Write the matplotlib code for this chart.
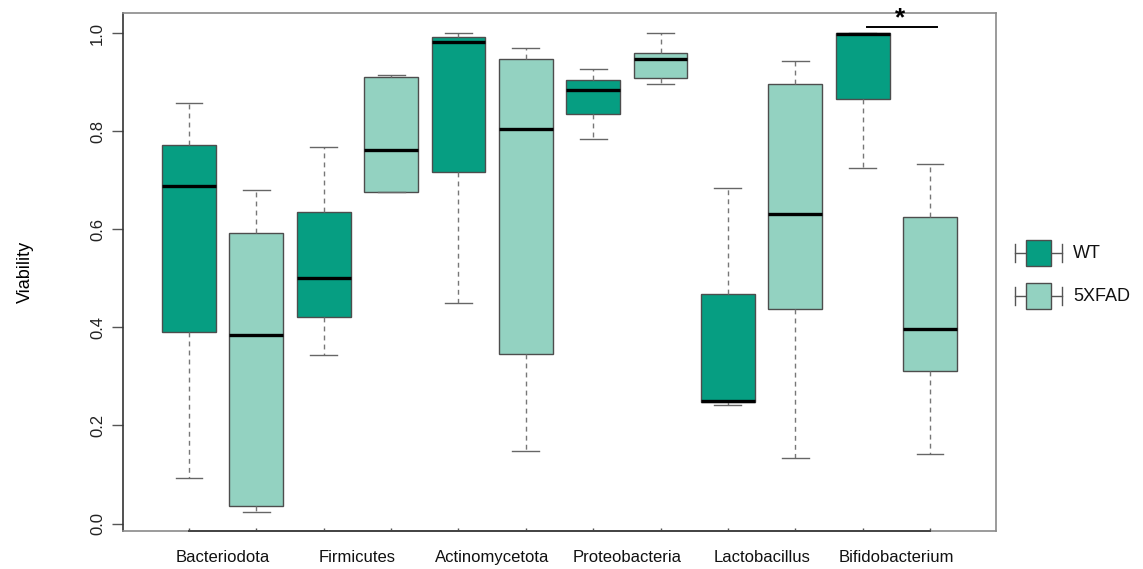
import matplotlib.pyplot as plt
from matplotlib.patches import Rectangle
from matplotlib.transforms import blended_transform_factory, offset_copy

plt.rcParams["font.family"] = ["Liberation Sans", "DejaVu Sans"]

# phylum / genus groups, two genotypes each
groups = ["Bacteriodota", "Firmicutes", "Actinomycetota",
          "Proteobacteria", "Lactobacillus", "Bifidobacterium"]
genotypes = ["WT", "5XFAD"]

# five-number summaries per group (whisker low, Q1, median, Q3, whisker high)
wt_lo = [0.093, 0.344, 0.449, 0.784, 0.242, 0.726]
wt_q1 = [0.391, 0.422, 0.717, 0.835, 0.248, 0.866]
wt_med = [0.689, 0.500, 0.983, 0.885, 0.250, 0.998]
wt_q3 = [0.772, 0.635, 0.992, 0.906, 0.468, 1.000]
wt_hi = [0.859, 0.769, 1.000, 0.928, 0.684, 1.000]

ad_lo = [0.023, 0.676, 0.148, 0.896, 0.134, 0.142]
ad_q1 = [0.036, 0.676, 0.345, 0.909, 0.438, 0.311]
ad_med = [0.385, 0.763, 0.806, 0.947, 0.632, 0.397]
ad_q3 = [0.592, 0.912, 0.947, 0.961, 0.896, 0.626]
ad_hi = [0.681, 0.915, 0.971, 1.000, 0.943, 0.734]

colors = {"WT": "#069e82", "5XFAD": "#93d2c1"}
edge = "#4d4d4d"


def make_stats(lo, q1, med, q3, hi):
    return [dict(whislo=a, q1=b, med=c, q3=d, whishi=e, fliers=[])
            for a, b, c, d, e in zip(lo, q1, med, q3, hi)]


wt_stats = make_stats(wt_lo, wt_q1, wt_med, wt_q3, wt_hi)
ad_stats = make_stats(ad_lo, ad_q1, ad_med, ad_q3, ad_hi)

stats, fills, positions = [], [], []
for i in range(len(groups)):
    stats += [wt_stats[i], ad_stats[i]]
    fills += [colors["WT"], colors["5XFAD"]]
    positions += [2 * i + 1, 2 * i + 2]

fig = plt.figure(figsize=(11.43, 5.69), dpi=100)
ax = fig.add_axes([123 / 1143, 38 / 569, 873 / 1143, 518 / 569])

bp = ax.bxp(stats, positions=positions, widths=0.8, patch_artist=True,
            showfliers=False,
            boxprops=dict(edgecolor=edge, linewidth=1.0),
            medianprops=dict(color="black", linewidth=2.4),
            whiskerprops=dict(color="#777777", linewidth=1.0,
                              linestyle=(0, (3.5, 3))),
            capprops=dict(color="#666666", linewidth=1.0),
            capwidths=0.4)
for patch, c in zip(bp["boxes"], fills):
    patch.set_facecolor(c)

ax.set_xlim(0.02, 12.98)
ax.set_ylim(-0.0153, 1.0418)

for s in ax.spines.values():
    s.set_color("#8a8a8a")
    s.set_linewidth(1.2)
ax.spines["left"].set_color("#333333")

ax.set_yticks([0.0, 0.2, 0.4, 0.6, 0.8, 1.0])
ax.set_yticklabels(["0.0", "0.2", "0.4", "0.6", "0.8", "1.0"],
                   rotation=90, va="center", fontsize=12, color="#222222")
ax.tick_params(axis="y", length=8, width=1, color="#555555", pad=5)
ax.set_ylabel("Viability", fontsize=13, labelpad=40)

# bottom axis: ticks at every box, line spanning first to last box
ax.set_xticks(positions)
ax.set_xticklabels([])
ax.tick_params(axis="x", length=2, width=1, color="#555555", direction="in")
ax.plot([1, 12], [-0.0153, -0.0153], color="#444444", lw=1.4,
        clip_on=False, zorder=5)

trans = offset_copy(blended_transform_factory(ax.transData, ax.transAxes),
                    fig=fig, y=-19, units="points")
for i, name in enumerate(groups):
    ax.text(2 * i + 1.5, 0, name, transform=trans, ha="center", va="center",
            fontsize=12, color="#111111")

# significance mark for Bifidobacterium
ax.plot([11.07, 12.1], [1.014, 1.014], color="black", lw=1.4, clip_on=False)
ax.text(11.55, 1.006, "*", ha="center", va="bottom", fontsize=19,
        fontweight="bold", clip_on=False)

# legend with box-and-whisker keys, drawn outside the plot area
lg = fig.add_axes([0, 0, 1, 1], zorder=10)
lg.set_xlim(0, 1143)
lg.set_ylim(569, 0)
lg.axis("off")
for k, name in enumerate(genotypes):
    yc = 253 + 43 * k
    lg.plot([1015, 1062], [yc, yc], color="#555555", lw=1.0)
    lg.plot([1015, 1015], [yc - 9, yc + 9], color="#555555", lw=1.0)
    lg.plot([1062, 1062], [yc - 9, yc + 9], color="#555555", lw=1.0)
    lg.add_patch(Rectangle((1026, yc - 13), 25, 26, facecolor=colors[name],
                           edgecolor=edge, lw=1.0, zorder=3))
    lg.text(1073, yc, name, va="center", ha="left", fontsize=13,
            color="#111111")

fig.savefig("out.png", dpi=100)
